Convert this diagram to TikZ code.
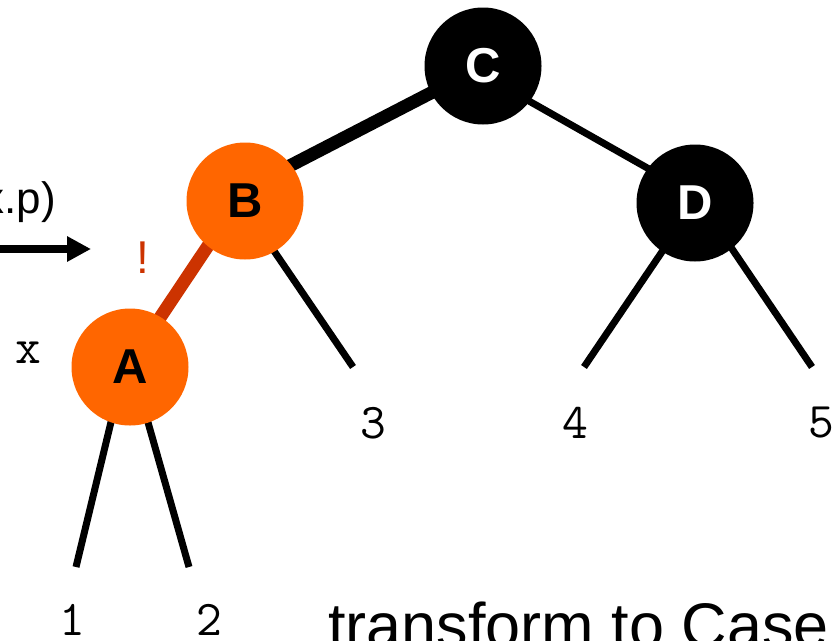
\documentclass[tikz,border=0pt]{standalone}
\usepackage{fontspec}
\setmainfont{Liberation Sans}
\usetikzlibrary{positioning, arrows.meta, backgrounds}

\definecolor{rbred}{HTML}{FF6600}
\definecolor{rbedge}{HTML}{CC3300}

\tikzset{
  rbnode/.style={circle, minimum size=117pt, inner sep=0pt, font=\fontsize{49}{49}\selectfont\bfseries},
  blacknode/.style={rbnode, fill=black, text=white},
  rednode/.style={rbnode, fill=rbred, text=black},
  leaf/.style={inner sep=0pt, font=\fontsize{50}{50}\selectfont\ttfamily},
  thinedge/.style={line width=7pt},
  thickedge/.style={line width=13pt},
}

\begin{document}
\begin{tikzpicture}[x=1pt, y=1pt]
                \useasboundingbox (0,0) rectangle (834,-640);
                \clip (0,0) rectangle (834,-640);

                \node[blacknode] (C) at (483,-66) {C};
                \node[rednode] (B) at (245,-201) {B};
                \node[blacknode] (D) at (695,-203) {D};
                \node[rednode] (A) at (130,-367) {A};

                \coordinate (t1) at (76,-567);
                \coordinate (t2) at (189,-567);
                \coordinate (t3) at (353,-367);
                \coordinate (t4) at (584,-367);
                \coordinate (t5) at (812,-367);

                \node[leaf] (n1) at (72,-620) {1};
                \node[leaf] (n2) at (209,-620) {2};
                \node[leaf] (n3) at (373,-423) {3};
                \node[leaf] (n4) at (575,-423) {4};
                \node[leaf] (n5) at (821,-423) {5};
                \node[leaf] (x) at (28,-353) {x};

                \node[inner sep=0pt, text=rbedge, font=\fontsize{46}{46}\selectfont] (bang) at (143,-258) {!};
                \node[inner sep=0pt, anchor=base east, font=\fontsize{44}{44}\selectfont] (rot) at (56,-213) {(x.p)};
                \node[inner sep=0pt, anchor=base west, font=\fontsize{63}{63}\selectfont] (note) at (328,-647) {transform to Case};

                \coordinate (arrS) at (-5,-249);
                \coordinate (arrE) at (91,-249);
                \draw[-{Triangle[length=24pt, width=24pt]}, line width=8pt] (arrS) -- (arrE);

                \begin{scope}[on background layer]
                    \draw[thickedge] (C.center) -- ([yshift=12pt]B.center);
                    \draw[thinedge] ([yshift=-9pt]C.center) -- ([yshift=8pt]D.center);
                    \draw[thickedge, rbedge] ([xshift=-7pt]B.center) -- ([xshift=-3pt]A.center);
                    \draw[thinedge] ([xshift=-5pt]B.center) -- (t3);
                    \draw[thinedge] (D.center) -- (t4);
                    \draw[thinedge] ([xshift=6pt]D.center) -- (t5);
                    \draw[thinedge, shorten <=-8pt] (A.251) -- (t1);
                    \draw[thinedge, shorten <=-8pt] (A.288) -- (t2);
                \end{scope}
            \end{tikzpicture}
\end{document}
